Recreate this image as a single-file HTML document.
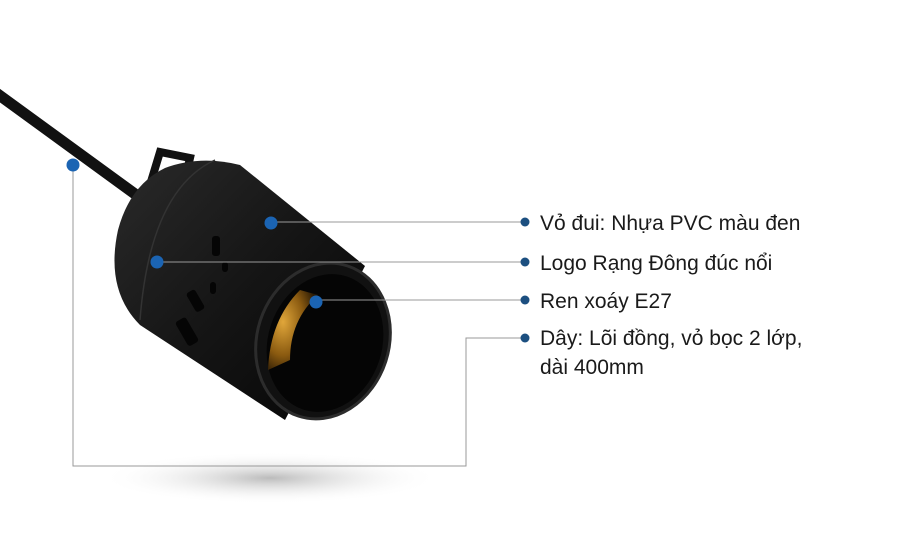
<!DOCTYPE html>
<html><head><meta charset="utf-8"><style>
html,body{margin:0;padding:0;background:#fff;}
svg{display:block}
text{font-family:"Liberation Sans",sans-serif;font-size:21px;fill:#1a1a1a}
</style></head><body>
<svg width="900" height="560" viewBox="0 0 900 560">
<defs>
<radialGradient id="sh" cx="50%" cy="50%" r="50%"><stop offset="0" stop-color="#bbb"/><stop offset="1" stop-color="#fff" stop-opacity="0"/></radialGradient>
<linearGradient id="body" x1="0" y1="0" x2="1" y2="1"><stop offset="0" stop-color="#2a2a2a"/><stop offset=".5" stop-color="#151515"/><stop offset="1" stop-color="#050505"/></linearGradient>
<radialGradient id="brass" cx="30%" cy="40%" r="70%"><stop offset="0" stop-color="#e0a63a"/><stop offset=".6" stop-color="#8a5a10"/><stop offset="1" stop-color="#2a1a05"/></radialGradient>
</defs>
<ellipse cx="270" cy="478" rx="170" ry="26" fill="url(#sh)"/>
<path d="M-5 92 L150 205" stroke="#111" stroke-width="11" stroke-linecap="round"/>
<path d="M150 185 L160 152 L190 158 L185 180" fill="none" stroke="#111" stroke-width="8"/>
<path d="M165 168 Q200 155 240 165 L365 266 L285 420 L140 325 Q105 290 118 230 Q130 185 165 168 Z" fill="url(#body)"/>
<path d="M215 160 Q150 190 140 320" stroke="#333" stroke-width="1.5" fill="none"/>
<g fill="#050505">
<rect x="212" y="236" width="8" height="20" rx="3"/>
<rect x="222" y="262" width="6" height="10" rx="3"/>
<rect x="210" y="282" width="6" height="12" rx="3"/>
<rect x="190" y="290" width="10" height="22" rx="3" transform="rotate(-30 195 300)"/>
<rect x="180" y="318" width="12" height="28" rx="3" transform="rotate(-30 186 330)"/>
</g>
<ellipse cx="323" cy="341" rx="66" ry="79" transform="rotate(18 323 341)" fill="#111" stroke="#2c2c2c" stroke-width="3"/>
<ellipse cx="325" cy="343" rx="57" ry="70" transform="rotate(18 325 343)" fill="#050505"/>
<path d="M300 290 Q270 320 268 370 L290 360 Q290 320 318 295 Z" fill="url(#brass)"/>
<g stroke="#999" stroke-width="1" fill="none">
<path d="M270 222 H525"/>
<path d="M157 262 H525"/>
<path d="M316 300 H525"/>
<path d="M73 165 V466 H466 V338 H525"/>
</g>
<g fill="#1b64b3">
<circle cx="271" cy="223" r="6.5"/>
<circle cx="157" cy="262" r="6.5"/>
<circle cx="316" cy="302" r="6.5"/>
<circle cx="73" cy="165" r="6.5"/>
</g>
<g fill="#1c4f80">
<circle cx="525" cy="222" r="4.5"/>
<circle cx="525" cy="262" r="4.5"/>
<circle cx="525" cy="300" r="4.5"/>
<circle cx="525" cy="338" r="4.5"/>
</g>
<text x="540" y="230">Vỏ đui: Nhựa PVC màu đen</text>
<text x="540" y="270">Logo Rạng Đông đúc nổi</text>
<text x="540" y="308">Ren xoáy E27</text>
<text x="540" y="345">Dây: Lõi đồng, vỏ bọc 2 lớp,</text>
<text x="540" y="374">dài 400mm</text>
</svg>
</body></html>
